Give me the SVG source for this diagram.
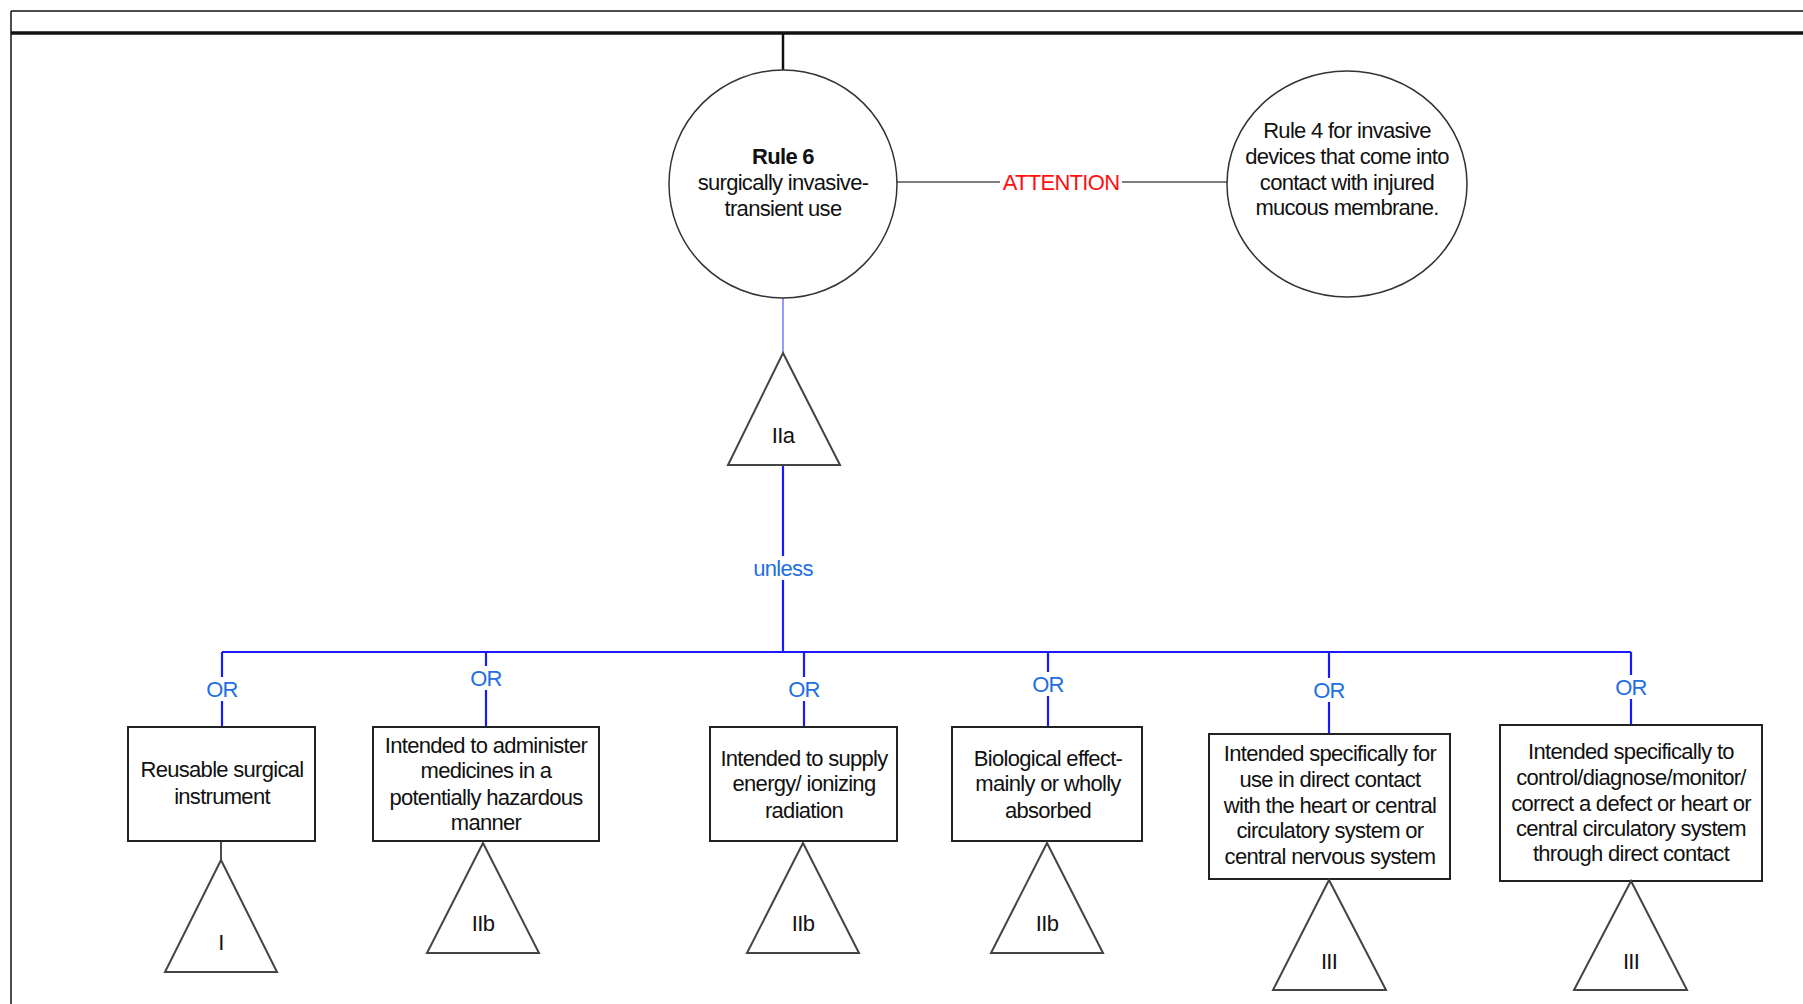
<svg xmlns="http://www.w3.org/2000/svg" width="1803" height="1004" viewBox="0 0 1803 1004">
<style>
text{font-family:"Liberation Sans",Arial,sans-serif;font-size:22px;letter-spacing:-0.7px;text-anchor:middle;fill:#111}
.b{font-weight:bold}
.or{fill:#1f6fe0}
.red{fill:#ff1010}
.shape{fill:#fff;stroke:#222;stroke-width:2}
.circ{fill:#fff;stroke:#333;stroke-width:1.5}
.tri{fill:#fff;stroke:#444;stroke-width:2;stroke-linejoin:miter}
.blue{stroke:#1a1aff;stroke-width:2.2;fill:none}
.blk{stroke:#111;fill:none}
</style>
<rect width="1803" height="1004" fill="#fff"/>
<g id="frame">
<line class="blk" x1="11" y1="11" x2="1803" y2="11" stroke-width="1.5"/>
<line class="blk" x1="11" y1="11" x2="11" y2="1004" stroke-width="1.5"/>
<line class="blk" x1="11" y1="33" x2="1803" y2="33" stroke-width="3.5"/>
</g>
<g id="connectors">
<line class="blk" x1="783" y1="33" x2="783" y2="70" stroke-width="2.5"/>
<line x1="897" y1="182" x2="1000" y2="182" stroke="#555" stroke-width="1.5"/>
<line x1="1122" y1="182" x2="1227" y2="182" stroke="#555" stroke-width="1.5"/>
<line x1="783" y1="298" x2="783" y2="353" stroke="#9a9aff" stroke-width="2"/>
<line class="blue" x1="783" y1="465" x2="783" y2="556"/>
<line class="blue" x1="783" y1="580" x2="783" y2="652"/>
<line class="blue" x1="222" y1="652" x2="1631" y2="652"/>
<line class="blue" x1="222" y1="652" x2="222" y2="677"/>
<line class="blue" x1="222" y1="701" x2="222" y2="727"/>
<line class="blue" x1="486" y1="652" x2="486" y2="666"/>
<line class="blue" x1="486" y1="690" x2="486" y2="727"/>
<line class="blue" x1="804" y1="652" x2="804" y2="677"/>
<line class="blue" x1="804" y1="701" x2="804" y2="727"/>
<line class="blue" x1="1048" y1="652" x2="1048" y2="672"/>
<line class="blue" x1="1048" y1="696" x2="1048" y2="727"/>
<line class="blue" x1="1329" y1="652" x2="1329" y2="678"/>
<line class="blue" x1="1329" y1="702" x2="1329" y2="734"/>
<line class="blue" x1="1631" y1="652" x2="1631" y2="675"/>
<line class="blue" x1="1631" y1="699" x2="1631" y2="725"/>
<line class="blk" x1="221" y1="841" x2="221" y2="860" stroke-width="1.5"/>
<text class="red" x="1061" y="190">ATTENTION</text>
<text class="or" x="783" y="576">unless</text>
<text class="or" x="222" y="697">OR</text>
<text class="or" x="486" y="686">OR</text>
<text class="or" x="804" y="697">OR</text>
<text class="or" x="1048" y="692">OR</text>
<text class="or" x="1329" y="698">OR</text>
<text class="or" x="1631" y="695">OR</text>
</g>
<g id="rule6">
<circle class="circ" cx="783" cy="184" r="114"/>
<text class="b" x="783" y="164">Rule 6</text>
<text x="783" y="190">surgically invasive-</text>
<text x="783" y="216">transient use</text>
</g>
<g id="rule4">
<ellipse class="circ" cx="1347" cy="184" rx="120" ry="113"/>
<text x="1347" y="138">Rule 4 for invasive</text>
<text x="1347" y="164">devices that come into</text>
<text x="1347" y="190">contact with injured</text>
<text x="1347" y="215">mucous membrane.</text>
</g>
<g id="tri-IIa">
<polygon class="tri" points="783,353 840,465 728,465"/>
<text x="783" y="443">IIa</text>
</g>
<g id="box1">
<rect class="shape" x="128" y="727" width="187" height="114"/>
<text x="222" y="777">Reusable surgical</text>
<text x="222" y="804">instrument</text>
</g>
<g id="tri1">
<polygon class="tri" points="221,860 277,972 165,972"/>
<text x="221" y="950">I</text>
</g>
<g id="box2">
<rect class="shape" x="373" y="727" width="226" height="114"/>
<text x="486" y="753">Intended to administer</text>
<text x="486" y="778">medicines in a</text>
<text x="486" y="805">potentially hazardous</text>
<text x="486" y="830">manner</text>
</g>
<g id="tri2">
<polygon class="tri" points="483,843 539,953 427,953"/>
<text x="483" y="931">IIb</text>
</g>
<g id="box3">
<rect class="shape" x="710" y="727" width="187" height="114"/>
<text x="804" y="766">Intended to supply</text>
<text x="804" y="791">energy/ ionizing</text>
<text x="804" y="818">radiation</text>
</g>
<g id="tri3">
<polygon class="tri" points="803,843 859,953 747,953"/>
<text x="803" y="931">IIb</text>
</g>
<g id="box4">
<rect class="shape" x="952" y="727" width="190" height="114"/>
<text x="1048" y="766">Biological effect-</text>
<text x="1048" y="791">mainly or wholly</text>
<text x="1048" y="818">absorbed</text>
</g>
<g id="tri4">
<polygon class="tri" points="1047,843 1103,953 991,953"/>
<text x="1047" y="931">IIb</text>
</g>
<g id="box5">
<rect class="shape" x="1209" y="734" width="241" height="145"/>
<text x="1330" y="761">Intended specifically for</text>
<text x="1330" y="787">use in direct contact</text>
<text x="1330" y="813">with the heart or central</text>
<text x="1330" y="838">circulatory system or</text>
<text x="1330" y="864">central nervous system</text>
</g>
<g id="tri5">
<polygon class="tri" points="1329,880 1386,990 1273,990"/>
<text x="1329" y="969">III</text>
</g>
<g id="box6">
<rect class="shape" x="1500" y="725" width="262" height="156"/>
<text x="1631" y="759">Intended specifically to</text>
<text x="1631" y="785">control/diagnose/monitor/</text>
<text x="1631" y="811">correct a defect or heart or</text>
<text x="1631" y="836">central circulatory system</text>
<text x="1631" y="861">through direct contact</text>
</g>
<g id="tri6">
<polygon class="tri" points="1631,881 1687,990 1574,990"/>
<text x="1631" y="969">III</text>
</g>
</svg>
